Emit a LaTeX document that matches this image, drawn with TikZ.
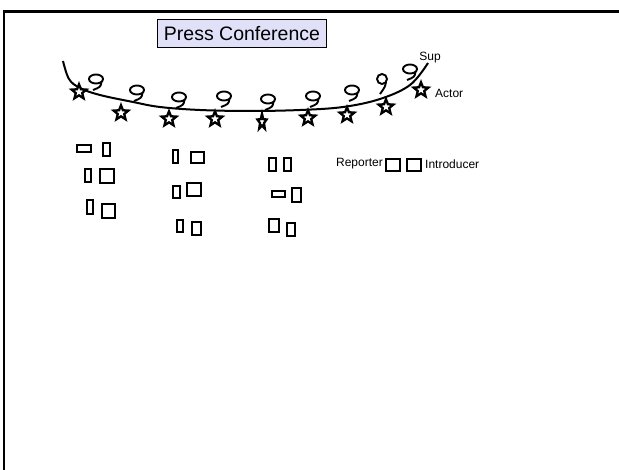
\documentclass[tikz,border=0pt]{standalone}
\usepackage{fontspec}
\setmainfont{Liberation Sans}
\usetikzlibrary{shapes.geometric}
\definecolor{titlefill}{RGB}{224,224,248}
\tikzset{
  actorstar/.style={star, star points=5, star point ratio=2.3, minimum size=15.5pt, inner sep=0pt, draw=black, fill=white, line width=2.3pt},
  seat/.style={draw=black, line width=2.3pt, inner sep=0pt, fill=white},
  lbl/.style={font=\fontsize{12}{13}\selectfont, inner sep=0pt},
  bubble/.pic={
    \draw[line width=1.9pt] (0,0) ellipse (7 and 4.5);
    \draw[line width=1.9pt] (5.5,3) .. controls (4.5,8) .. (-3,11);
  },
  ububble/.pic={
    \draw[line width=1.9pt] (0,0) ellipse (5 and 5);
    \draw[line width=1.9pt] (4,3) .. controls (3,8) .. (-2,15);
  }
}
\begin{document}
\begin{tikzpicture}[x=1pt,y=-1pt]
\useasboundingbox (0,0) rectangle (619,470);
% page border (top and left)
\coordinate (bTL) at (4,11.3);
\coordinate (bTR) at (619,11.3);
\coordinate (bBL) at (4,470);
\draw[line width=2.7pt] (bTR) -- (bTL) -- (bBL);
% title
\node[draw=black, fill=titlefill, line width=1.5pt, minimum width=169pt, minimum height=28pt, inner sep=0pt, font=\fontsize{19.5}{21}\selectfont] (title) at (242,33.5) {Press Conference};
% arc
\draw[line width=2pt] plot[smooth, tension=0.6] coordinates {(63,61) (69,79) (80,88) (100,95) (133,102) (160,107) (200,110) (250,111) (300,110) (343,107) (380,99) (410,85) (428,63)};
% bubbles
\pic at (96,79) {bubble};
\pic at (137,90) {bubble};
\pic at (179,97) {bubble};
\pic at (224,96) {bubble};
\pic at (268,99) {bubble};
\pic at (313,96) {bubble};
\pic at (352,90) {bubble};
\pic at (382,79) {ububble};
\pic at (410,69) {bubble};
% stars
\node[actorstar] (s1) at (79,92) {};
\node[actorstar] (s2) at (121,113) {};
\node[actorstar] (s3) at (169,119) {};
\node[actorstar] (s4) at (215,119) {};
\begin{scope}[shift={(262,122)}, xscale=0.62, yscale=1.05]
\node[actorstar, transform shape] (s5) at (0,0) {};
\end{scope}
\node[actorstar] (s6) at (308,118) {};
\node[actorstar] (s7) at (347,115) {};
\node[actorstar] (s8) at (386,107) {};
\node[actorstar] (s9) at (421,90) {};
\node[lbl] (sup) at (430,58) {Sup};
\node[lbl, anchor=west] (actor) at (435,93) {Actor};
% seats column 1
\node[seat, minimum width=14pt, minimum height=7pt] (a1) at (84,148.5) {};
\node[seat, minimum width=7pt, minimum height=13pt] (a2) at (106.5,149.5) {};
\node[seat, minimum width=6pt, minimum height=13pt] (b1) at (88,175.5) {};
\node[seat, minimum width=14pt, minimum height=14pt] (b2) at (107,176) {};
\node[seat, minimum width=6pt, minimum height=14pt] (c1) at (90,207) {};
\node[seat, minimum width=13pt, minimum height=14pt] (c2) at (108.5,211) {};
% seats column 2
\node[seat, minimum width=5.5pt, minimum height=13pt] (d1) at (175.5,156.5) {};
\node[seat, minimum width=13pt, minimum height=11pt] (d2) at (197.5,157.5) {};
\node[seat, minimum width=7pt, minimum height=12pt] (e1) at (176.5,192) {};
\node[seat, minimum width=14pt, minimum height=13pt] (e2) at (194,189.5) {};
\node[seat, minimum width=6pt, minimum height=12pt] (f1) at (180,226) {};
\node[seat, minimum width=9pt, minimum height=13pt] (f2) at (196.5,228.5) {};
% seats column 3
\node[seat, minimum width=7pt, minimum height=13pt] (g1) at (272.5,164.5) {};
\node[seat, minimum width=7pt, minimum height=13pt] (g2) at (287.5,164.5) {};
\node[seat, minimum width=13pt, minimum height=6pt] (h1) at (278.5,194) {};
\node[seat, minimum width=9pt, minimum height=14pt] (h2) at (296.5,195) {};
\node[seat, minimum width=10pt, minimum height=13pt] (i1) at (274,225.5) {};
\node[seat, minimum width=8pt, minimum height=13pt] (i2) at (291,229.5) {};
% legend
\node[seat, minimum width=14pt, minimum height=12pt] (L1) at (393,165) {};
\node[seat, minimum width=14pt, minimum height=12pt] (L2) at (414,165) {};
\node[lbl, anchor=east] (rep) at (383,164) {Reporter};
\node[lbl, anchor=west] (intro) at (425,164) {Introducer};
\end{tikzpicture}
\end{document}
